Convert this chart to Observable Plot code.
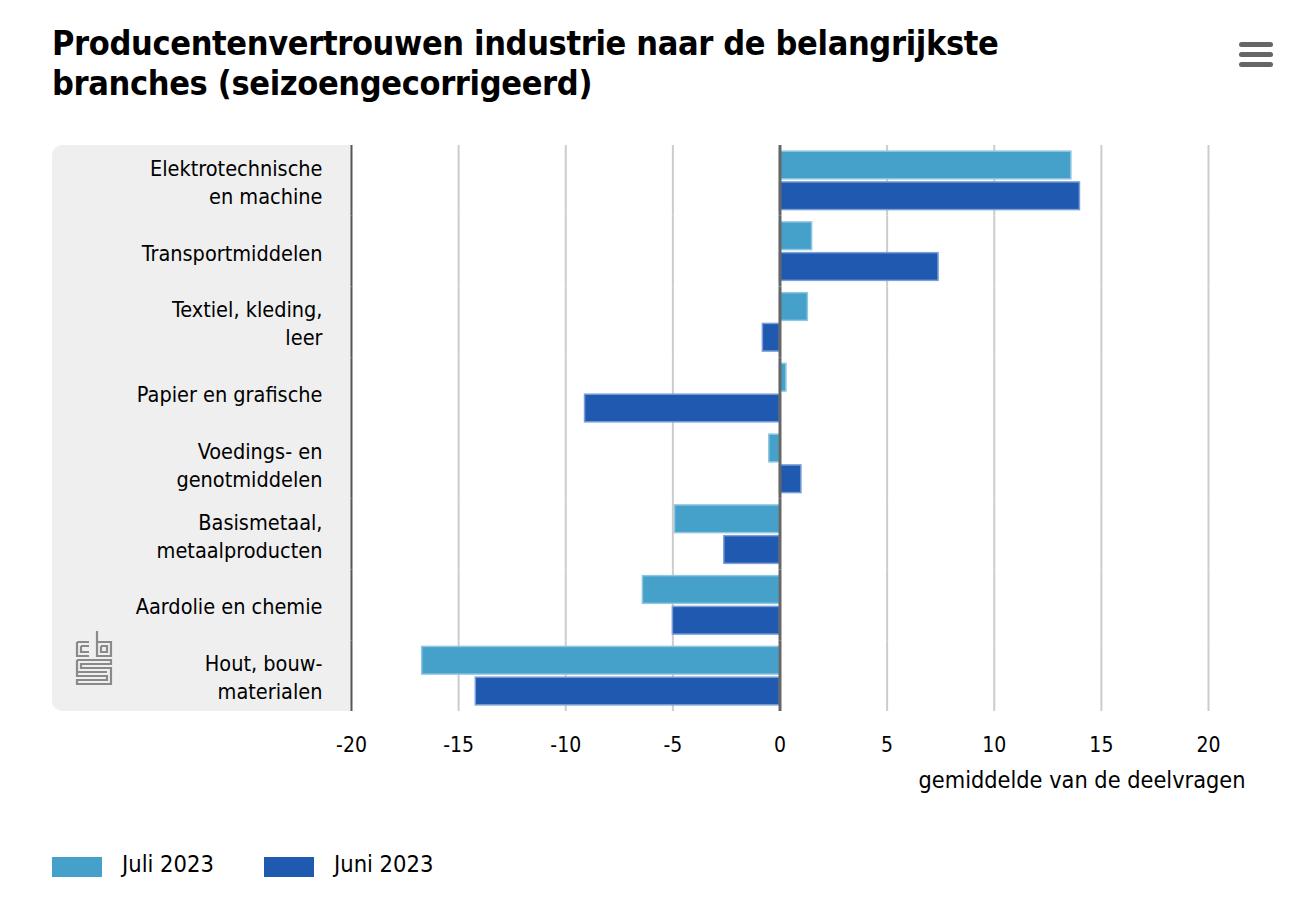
<!DOCTYPE html>
<html>
<head>
<meta charset="utf-8">
<script src="https://cdn.jsdelivr.net/npm/d3@7"></script>
<script src="https://cdn.jsdelivr.net/npm/@observablehq/plot@0.6"></script>
<style>
  html, body { margin: 0; padding: 0; background: #fff; }
  body { width: 1312px; height: 910px; position: relative; overflow: hidden;
         font-family: "DejaVu Sans Condensed", "DejaVu Sans", sans-serif; color: #000; }
  #title { position: absolute; left: 52px; top: 23px; font-weight: bold; font-size: 34px;
           line-height: 40px; letter-spacing: -0.35px; }
  #menu { position: absolute; left: 1239px; top: 42px; width: 34px; }
  #menu div { height: 5px; background: #666; border-radius: 3px; margin-bottom: 5px; }
  #panel { position: absolute; left: 52px; top: 145px; width: 299px; height: 566px;
           background: #efefef; border-radius: 10px 0 0 10px; }
  #logo { position: absolute; left: 75px; top: 629px; }
  #chart { position: absolute; left: 0; top: 120px; }
  #legend { position: absolute; left: 52px; top: 849px; font-size: 23.5px; }
  .item { position: absolute; top: 0; white-space: nowrap; }
  .sw { position: absolute; top: 8px; width: 50px; height: 20px; }
  .lab { position: absolute; left: 70px; top: 0; line-height: 30px; }
</style>
</head>
<body>
<div id="title">Producentenvertrouwen industrie naar de belangrijkste<br>branches (seizoengecorrigeerd)</div>
<div id="menu"><div></div><div></div><div></div></div>
<div id="panel"></div>
<svg id="logo" width="40" height="60" viewBox="0 0 40 60" fill="none" stroke="#8a8a8a" stroke-width="2.2">
  <path d="M2 13 H14 M2 13 V27 H14 M6 17 H14 M6 17 V23 H14"/>
  <path d="M22 2 V27 H36 V13 H22 M26 17 H32 V23 H26 V17"/>
  <path d="M2 31 H36 V35 H6 V39 H36 V55 H2 V51 H32 V47 H2 V43 H32 M2 31 V43"/>
</svg>
<div id="chart"></div>
<div id="legend"></div>
<script>
const categories = [
  "Elektrotechnische\nen machine",
  "Transportmiddelen",
  "Textiel, kleding,\nleer",
  "Papier en grafische",
  "Voedings- en\ngenotmiddelen",
  "Basismetaal,\nmetaalproducten",
  "Aardolie en chemie",
  "Hout, bouw-\nmaterialen"
];
const series = ["Juli 2023", "Juni 2023"];
const juli2023 = [13.6, 1.5, 1.3, 0.3, -0.5, -4.9, -6.4, -16.7];
const juni2023 = [14.0, 7.4, -0.8, -9.1, 1.0, -2.6, -5.0, -14.2];
const xTicks = [-20, -15, -10, -5, 0, 5, 10, 15, 20];
const xLabel = "gemiddelde van de deelvragen";
const colors = ["#45a1c9", "#2059b0"];
const strokes = ["#8fc6e0", "#7b9fd6"];

const rows = [];
categories.forEach((c, i) => {
  rows.push({category: c, series: series[0], value: juli2023[i]});
  rows.push({category: c, series: series[1], value: juni2023[i]});
});

const chart = Plot.plot({
  width: 1312,
  height: 690,
  marginLeft: 351,
  marginRight: 104,
  marginTop: 25,
  marginBottom: 99,
  style: {fontFamily: '"DejaVu Sans Condensed", "DejaVu Sans", sans-serif', fontSize: "20px", background: "transparent", color: "#000"},
  x: {domain: [-20, 20], ticks: xTicks, label: null},
  fy: {domain: categories, padding: 0, round: false, label: null},
  y: {domain: series, paddingInner: 0.1, paddingOuter: 0.2, round: false, axis: null},
  marks: [
    Plot.ruleX(xTicks.filter(d => d !== 0 && d !== -20), {stroke: "#cccccc", strokeWidth: 2}),
    Plot.barX(rows, {
      x: "value", y: "series", fy: "category",
      fill: d => colors[series.indexOf(d.series)],
      stroke: d => strokes[series.indexOf(d.series)],
      strokeWidth: 1.5
    }),
    Plot.ruleX([0], {stroke: "#666666", strokeWidth: 3}),
    Plot.ruleX([-20], {stroke: "#555555", strokeWidth: 2}),
    Plot.axisX({ticks: xTicks, tickSize: 0, tickPadding: 26, label: null, fill: "#000", fontSize: 21, tickFormat: d => String(d)}),
    Plot.axisFy({anchor: "left", tickSize: 0, tickPadding: 29, label: null, fontSize: 21.5, lineHeight: 1.3, fill: "#000"}),
    Plot.text([xLabel], {frameAnchor: "bottom-right", text: d => d, textAnchor: "end", dx: 37, dy: 76, fontSize: 23.3, fill: "#000",
      fy: () => categories[categories.length - 1]})
  ]
});
document.getElementById("chart").appendChild(chart);

const legend = document.getElementById("legend");
const offsets = [0, 212];
series.forEach((s, i) => {
  const item = document.createElement("div");
  item.className = "item";
  item.style.left = offsets[i] + "px";
  item.innerHTML = `<div class="sw" style="background:${colors[i]}"></div><div class="lab">${s}</div>`;
  legend.appendChild(item);
});
</script>
</body>
</html>
